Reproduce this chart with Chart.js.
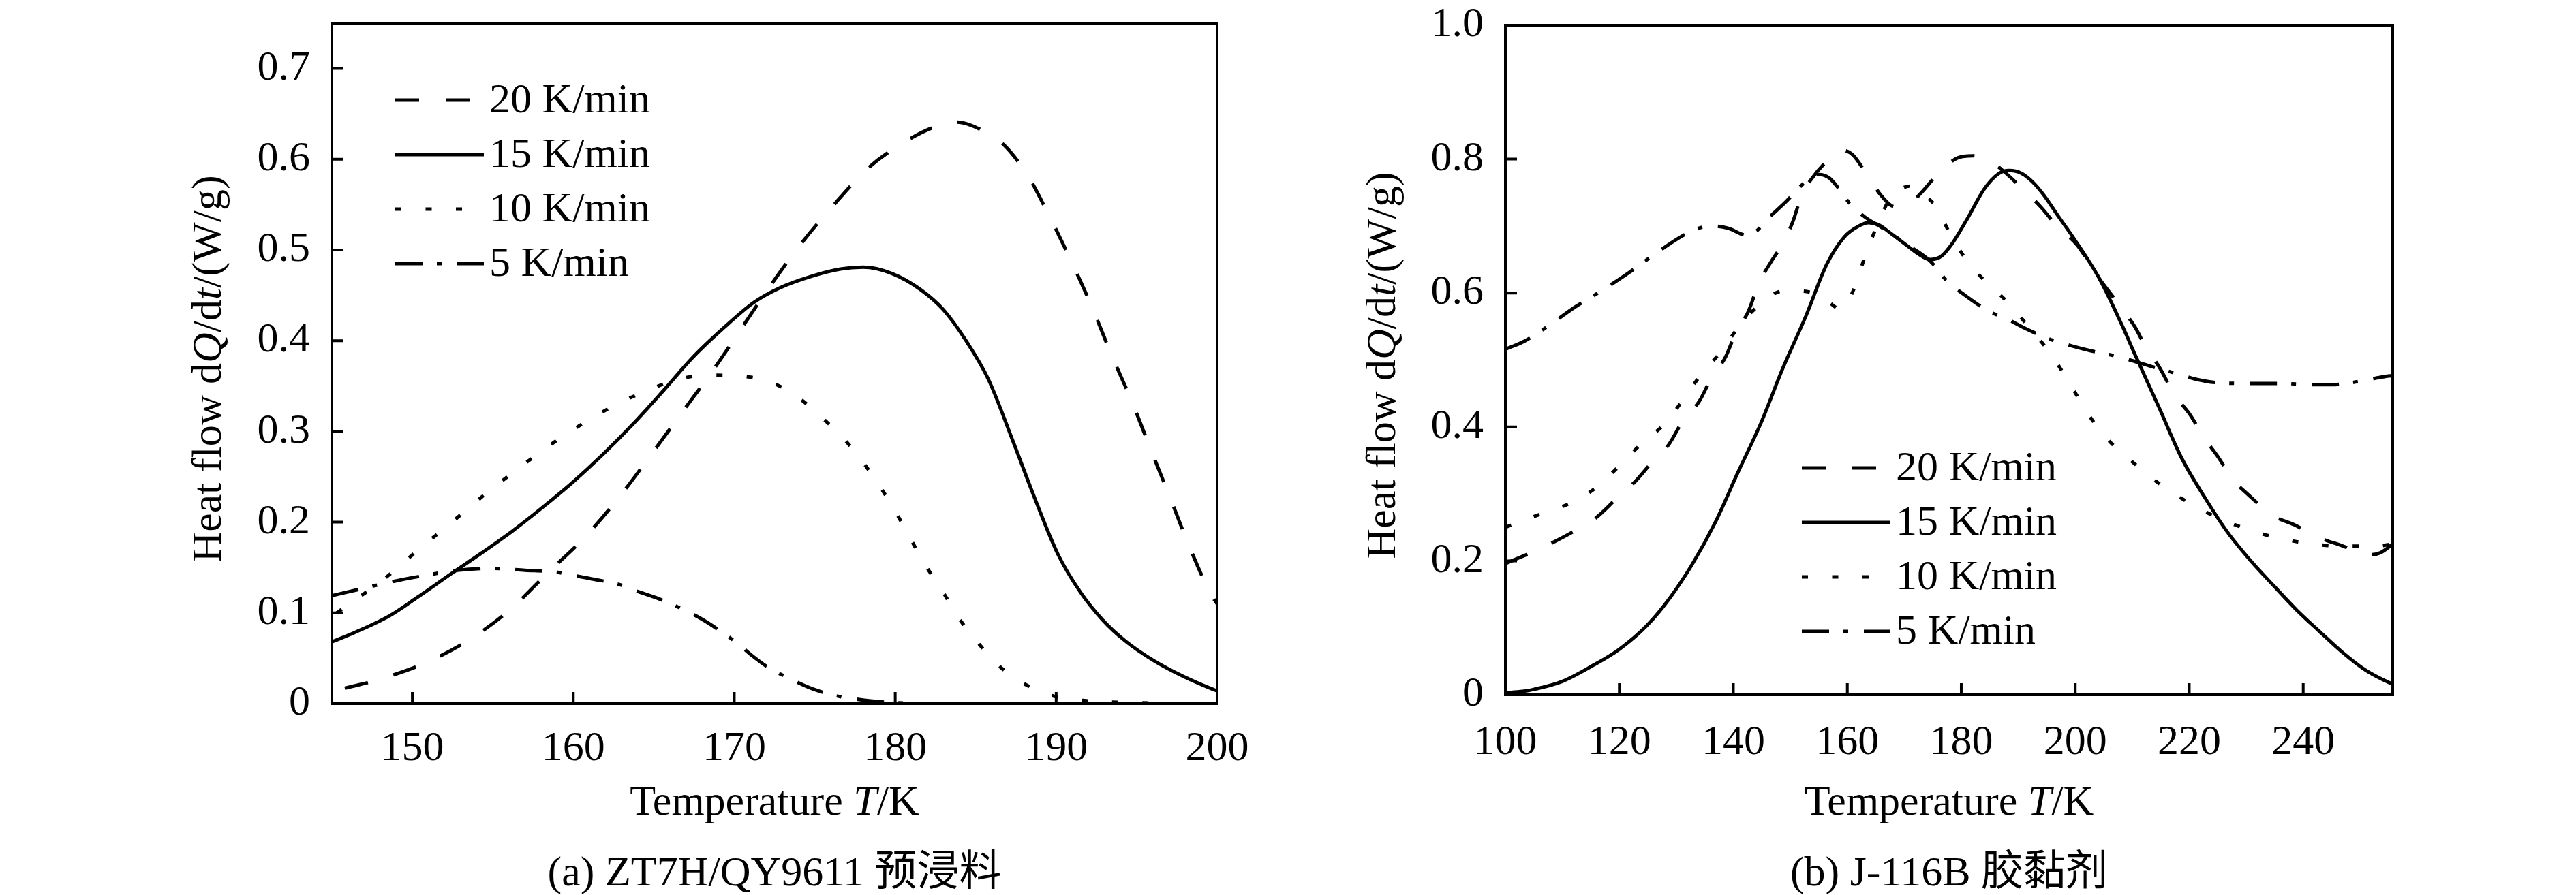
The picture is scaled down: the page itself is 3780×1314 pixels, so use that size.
<!DOCTYPE html>
<html>
<head>
<meta charset="utf-8">
<script src="https://cdn.jsdelivr.net/npm/chart.js@4.4.1/dist/chart.umd.min.js"></script>
<style>
  html, body { margin: 0; padding: 0; background: #fff; }
  #wrap { position: relative; width: 3780px; height: 1314px; background: #fff; }
  canvas { position: absolute; top: 0; }
</style>
</head>
<body>
<div id="wrap">
  <canvas id="cA" width="1890" height="1314" style="left:0px;width:1890px;height:1314px"></canvas>
  <canvas id="cB" width="1890" height="1314" style="left:1890px;width:1890px;height:1314px"></canvas>
</div>
<script>
// ---------------- DATA ----------------
const seriesLabels = ['20 K/min', '15 K/min', '10 K/min', '5 K/min'];

// (a) ZT7H/QY9611 prepreg : [T (K), heat flow (W/g)]
const A20 = [[145.8,0.017],[147.6,0.025],[150.7,0.044],[153.5,0.07],[156.1,0.104],[158.4,0.144],[160.8,0.185],[163,0.231],[164.9,0.276],[166.8,0.322],[168.7,0.368],[170.5,0.415],[172.3,0.462],[174.2,0.508],[176.1,0.548],[178.3,0.59],[180.3,0.616],[182.5,0.636],[183.8,0.641],[185.6,0.63],[186.8,0.615],[188.3,0.58],[189.5,0.54],[190.9,0.489],[192.2,0.438],[193.4,0.386],[194.7,0.333],[195.9,0.279],[197.1,0.226],[198.3,0.172],[199.6,0.121],[200,0.11]];
const A15 = [[145,0.068],[146.5,0.079],[148.6,0.097],[150.3,0.117],[152.4,0.143],[154.3,0.166],[156.2,0.19],[158,0.215],[159.9,0.243],[161.8,0.274],[163.7,0.308],[165.6,0.345],[167.5,0.383],[169.4,0.415],[171.2,0.442],[172.8,0.458],[174.8,0.471],[176.6,0.479],[178,0.481],[179.8,0.474],[181.6,0.456],[183,0.434],[184.4,0.4],[185.8,0.357],[187.3,0.29],[188.7,0.225],[190.1,0.165],[191.5,0.123],[192.9,0.092],[194.3,0.069],[196.1,0.047],[197.9,0.03],[199.7,0.016],[200,0.014]];
const A10 = [[145.3,0.1],[146.5,0.115],[147.7,0.13],[148.7,0.144],[150.2,0.167],[151.7,0.189],[153.2,0.211],[154.6,0.232],[156.2,0.254],[157.7,0.274],[159.3,0.294],[161,0.313],[162.8,0.331],[164.6,0.345],[166.4,0.357],[168.4,0.362],[170.4,0.361],[172.3,0.354],[174,0.337],[175.4,0.316],[176.8,0.292],[178,0.266],[179.1,0.238],[180.1,0.209],[181,0.18],[181.9,0.152],[183,0.122],[184,0.093],[185.1,0.068],[186.3,0.044],[188.1,0.021],[189.9,0.008],[192,0.003],[195,0.001],[200,0]];
const A05 = [[145,0.119],[146.7,0.126],[148.9,0.135],[150.7,0.141],[152.8,0.147],[154.9,0.149],[157,0.147],[158.9,0.145],[160.1,0.141],[161.3,0.137],[163.1,0.13],[164.1,0.123],[165.1,0.117],[166.8,0.104],[167.9,0.094],[168.8,0.084],[170.3,0.065],[171.1,0.053],[172.1,0.04],[173.4,0.028],[174.9,0.016],[176.5,0.008],[178,0.004],[180,0.001],[185,0],[200,0]];

// (b) J-116B adhesive : [T (K), heat flow (W/g)]
const B20 = [[100,0.196],[102.5,0.205],[105,0.214],[108,0.226],[112.4,0.246],[116,0.265],[119.5,0.293],[122.5,0.316],[125.7,0.347],[128.7,0.374],[131.2,0.41],[134,0.438],[136.2,0.474],[138.6,0.504],[140.5,0.542],[142.6,0.572],[144.5,0.615],[146.5,0.645],[148.8,0.676],[150.5,0.708],[151.9,0.744],[153.6,0.769],[156.8,0.8],[159.3,0.813],[161,0.806],[163.5,0.776],[166,0.745],[168.3,0.729],[170.5,0.731],[173,0.75],[176,0.779],[179.4,0.802],[182,0.805],[184.5,0.799],[187,0.785],[190.8,0.755],[193.8,0.73],[196.8,0.7],[200.3,0.672],[204,0.624],[208,0.579],[210.5,0.549],[212.7,0.514],[214.7,0.49],[217.5,0.447],[220,0.42],[222.7,0.383],[225,0.356],[227.7,0.321],[230.2,0.3],[234.6,0.268],[238.4,0.254],[242.4,0.236],[247,0.222],[251.3,0.209],[253.5,0.212],[255.7,0.225]];
const B15 = [[100,0.003],[103,0.005],[105,0.008],[110,0.02],[115,0.042],[120,0.068],[124.9,0.104],[128.9,0.145],[132.8,0.195],[136.8,0.257],[140.8,0.332],[144.8,0.405],[148.7,0.488],[152.7,0.565],[156.4,0.643],[159.5,0.684],[162,0.7],[163.7,0.705],[165.5,0.702],[167.5,0.69],[170,0.674],[172.5,0.658],[174.5,0.65],[176.5,0.655],[178.5,0.675],[181,0.71],[184,0.755],[186.5,0.778],[188.4,0.783],[190.5,0.779],[192.5,0.766],[194.6,0.745],[197,0.715],[199.8,0.681],[204.2,0.622],[208.2,0.552],[210.7,0.504],[214.7,0.429],[218.7,0.353],[222.7,0.295],[226.7,0.243],[230.8,0.2],[234.8,0.163],[238.8,0.127],[242.8,0.095],[246.8,0.064],[250.9,0.037],[255.1,0.018],[255.7,0.016]];
const B10 = [[100,0.25],[103,0.26],[106.6,0.271],[111.6,0.287],[116,0.31],[120,0.342],[124,0.376],[128,0.405],[131.3,0.442],[134.4,0.479],[137.6,0.51],[141,0.55],[144,0.578],[148.8,0.603],[151.5,0.603],[154.3,0.599],[156.5,0.588],[158.8,0.576],[160.3,0.59],[161.5,0.614],[163.2,0.657],[165.2,0.7],[167.2,0.737],[169.5,0.756],[171.8,0.76],[173.8,0.745],[175.7,0.727],[178.1,0.687],[180.6,0.653],[183.9,0.62],[187.8,0.589],[191.5,0.553],[194.8,0.519],[197.8,0.482],[200.5,0.444],[203,0.41],[206.4,0.375],[210.7,0.343],[215.1,0.313],[219.5,0.289],[224.1,0.268],[230.6,0.246],[236.2,0.233],[241.8,0.225],[247,0.222],[252.7,0.222],[255.7,0.225]];
const B05 = [[100,0.516],[103.3,0.528],[107.4,0.55],[112.2,0.579],[117,0.604],[121.6,0.63],[126.7,0.661],[131.2,0.686],[134,0.697],[136.3,0.7],[139,0.697],[142.5,0.686],[144,0.692],[145.7,0.708],[149.3,0.737],[151.3,0.755],[153.2,0.77],[155,0.777],[156.8,0.772],[158.5,0.756],[160.3,0.735],[163,0.714],[166,0.698],[170,0.675],[174.5,0.648],[177.6,0.617],[180.6,0.597],[184.8,0.573],[188.3,0.56],[191.5,0.546],[196.2,0.529],[199.4,0.521],[202.6,0.514],[207,0.506],[210,0.499],[213.5,0.49],[218.5,0.478],[221.3,0.471],[225,0.466],[230,0.465],[236,0.465],[242,0.463],[245,0.463],[248.4,0.466],[253.5,0.474],[255.7,0.477]];

// tick labels
const xTicksA = [150, 160, 170, 180, 190, 200];
const yTicksA = [0, 0.1, 0.2, 0.3, 0.4, 0.5, 0.6, 0.7];
const xTicksB = [100, 120, 140, 160, 180, 200, 220, 240];
const yTicksB = [0, 0.2, 0.4, 0.6, 0.8, 1.0];

// texts
const yTitleParts = [['Heat flow d', false], ['Q', true], ['/d', false], ['t', true], ['/(W/g)', false]];
const xTitleParts = [['Temperature ', false], ['T', true], ['/K', false]];
const captionA = '(a) ZT7H/QY9611 预浸料';
const captionB = '(b) J-116B 胶黏剂';

// ---------------- STYLE ----------------
const SERIF = '"Liberation Serif", "Times New Roman", serif';
const CAPFONT = '"Liberation Serif", "Noto Sans CJK SC", serif';
const FS = 62;
const dashes = [[35, 39], [], [9, 35.5], [40, 21, 7, 23]];
const LW = 5;

function drawRich(ctx, parts, cx, cy, size) {
  let total = 0;
  const w = parts.map(p => {
    ctx.font = (p[1] ? 'italic ' : '') + size + 'px ' + SERIF;
    const m = ctx.measureText(p[0]).width;
    total += m;
    return m;
  });
  let x = cx - total / 2;
  ctx.textAlign = 'left';
  ctx.textBaseline = 'middle';
  parts.forEach((p, i) => {
    ctx.font = (p[1] ? 'italic ' : '') + size + 'px ' + SERIF;
    ctx.fillText(p[0], x, cy);
    x += w[i];
  });
}

const framePlugin = {
  id: 'frameText',
  afterDraw(chart, args, opts) {
    const ctx = chart.ctx;
    const a = chart.chartArea;
    const xs = chart.scales.x, ys = chart.scales.y;
    ctx.save();
    ctx.strokeStyle = '#000';
    ctx.fillStyle = '#000';
    ctx.lineWidth = 4;
    ctx.setLineDash([]);
    ctx.strokeRect(a.left, a.top, a.right - a.left, a.bottom - a.top);
    // inward ticks
    const TL = 17;
    ctx.beginPath();
    xs.ticks.forEach(t => {
      if (t.value <= xs.min || t.value >= xs.max) return;
      const px = xs.getPixelForValue(t.value);
      ctx.moveTo(px, a.bottom); ctx.lineTo(px, a.bottom - TL);
    });
    ys.ticks.forEach(t => {
      if (t.value <= ys.min || t.value >= ys.max) return;
      const py = ys.getPixelForValue(t.value);
      ctx.moveTo(a.left, py); ctx.lineTo(a.left + TL, py);
    });
    ctx.stroke();
    // axis titles
    drawRich(ctx, xTitleParts, (a.left + a.right) / 2, opts.xTitleY, FS);
    ctx.save();
    ctx.translate(a.left - opts.yTitleOffset, (a.top + a.bottom) / 2 + 8);
    ctx.rotate(-Math.PI / 2);
    drawRich(ctx, yTitleParts, 0, 0, FS);
    ctx.restore();
    // caption
    ctx.font = FS + 'px ' + CAPFONT;
    ctx.textAlign = 'center';
    ctx.textBaseline = 'middle';
    ctx.fillText(opts.caption, (a.left + a.right) / 2, opts.captionY);
    // legend
    const L = opts.legend;
    chart.data.datasets.forEach((ds, i) => {
      const y = a.top + L.dy + i * L.step;
      const x0 = a.left + L.dx;
      ctx.beginPath();
      ctx.lineWidth = LW;
      ctx.setLineDash(ds.borderDash || []);
      ctx.moveTo(x0, y); ctx.lineTo(x0 + L.len, y);
      ctx.stroke();
      ctx.setLineDash([]);
      ctx.font = FS + 'px ' + SERIF;
      ctx.textAlign = 'left';
      ctx.textBaseline = 'middle';
      ctx.fillText(ds.label, x0 + L.len + 8, y + 2);
    });
    ctx.restore();
  }
};

function toXY(arr) { return arr.map(p => ({ x: p[0], y: p[1] })); }

function zeroPad(s) { s.paddingTop = 0; s.paddingBottom = 0; s.paddingLeft = 0; s.paddingRight = 0; }

function makeChart(id, series, cfg) {
  const datasets = series.map((s, i) => ({
    label: seriesLabels[i],
    data: toXY(s),
    borderColor: '#000',
    borderWidth: LW,
    borderDash: dashes[i],
    pointRadius: 0,
    fill: false,
    cubicInterpolationMode: 'monotone',
    borderCapStyle: 'butt'
  }));
  return new Chart(document.getElementById(id), {
    type: 'line',
    data: { datasets },
    options: {
      responsive: false,
      animation: false,
      devicePixelRatio: 1,
      layout: { padding: cfg.padding },
      plugins: {
        legend: { display: false },
        tooltip: { enabled: false },
        frameText: cfg.frame
      },
      scales: {
        x: {
          type: 'linear', min: cfg.xmin, max: cfg.xmax,
          grid: { display: false, drawTicks: false },
          border: { display: false },
          ticks: { color: '#000', font: { family: SERIF, size: FS }, padding: cfg.xPad, maxRotation: 0, autoSkip: false },
          afterBuildTicks: s => { s.ticks = cfg.xTicks.map(v => ({ value: v })); },
          afterFit: s => { s.height = cfg.xH; zeroPad(s); }
        },
        y: {
          type: 'linear', min: cfg.ymin, max: cfg.ymax,
          grid: { display: false, drawTicks: false },
          border: { display: false },
          ticks: { color: '#000', font: { family: SERIF, size: FS }, padding: 32, autoSkip: false,
                   callback: cfg.yFmt },
          afterBuildTicks: s => { s.ticks = cfg.yTicks.map(v => ({ value: v })); },
          afterFit: s => { s.width = cfg.yW; zeroPad(s); }
        }
      }
    },
    plugins: [framePlugin]
  });
}

makeChart('cA', [A20, A15, A10, A05], {
  padding: { left: 0, right: 104, top: 34, bottom: 0 },
  xmin: 145, xmax: 200, ymin: 0, ymax: 0.75,
  xTicks: xTicksA, yTicks: yTicksA,
  xH: 281, yW: 487, xPad: 30,
  yFmt: v => (v === 0 ? '0' : String(v)),
  frame: { xTitleY: 1180, captionY: 1284, yTitleOffset: 179, caption: captionA,
           legend: { dx: 93, dy: 113, step: 80, len: 130 } }
});

makeChart('cB', [B20, B15, B10, B05], {
  padding: { left: 0, right: 269, top: 37, bottom: 0 },
  xmin: 100, xmax: 255.7, ymin: 0, ymax: 1.0,
  xTicks: xTicksB, yTicks: yTicksB,
  xH: 294, yW: 319, xPad: 34,
  yFmt: v => (v === 0 ? '0' : v.toFixed(1)),
  frame: { xTitleY: 1180, captionY: 1284, yTitleOffset: 178, caption: captionB,
           legend: { dx: 435, dy: 650, step: 80, len: 130 } }
});
</script>
</body>
</html>
